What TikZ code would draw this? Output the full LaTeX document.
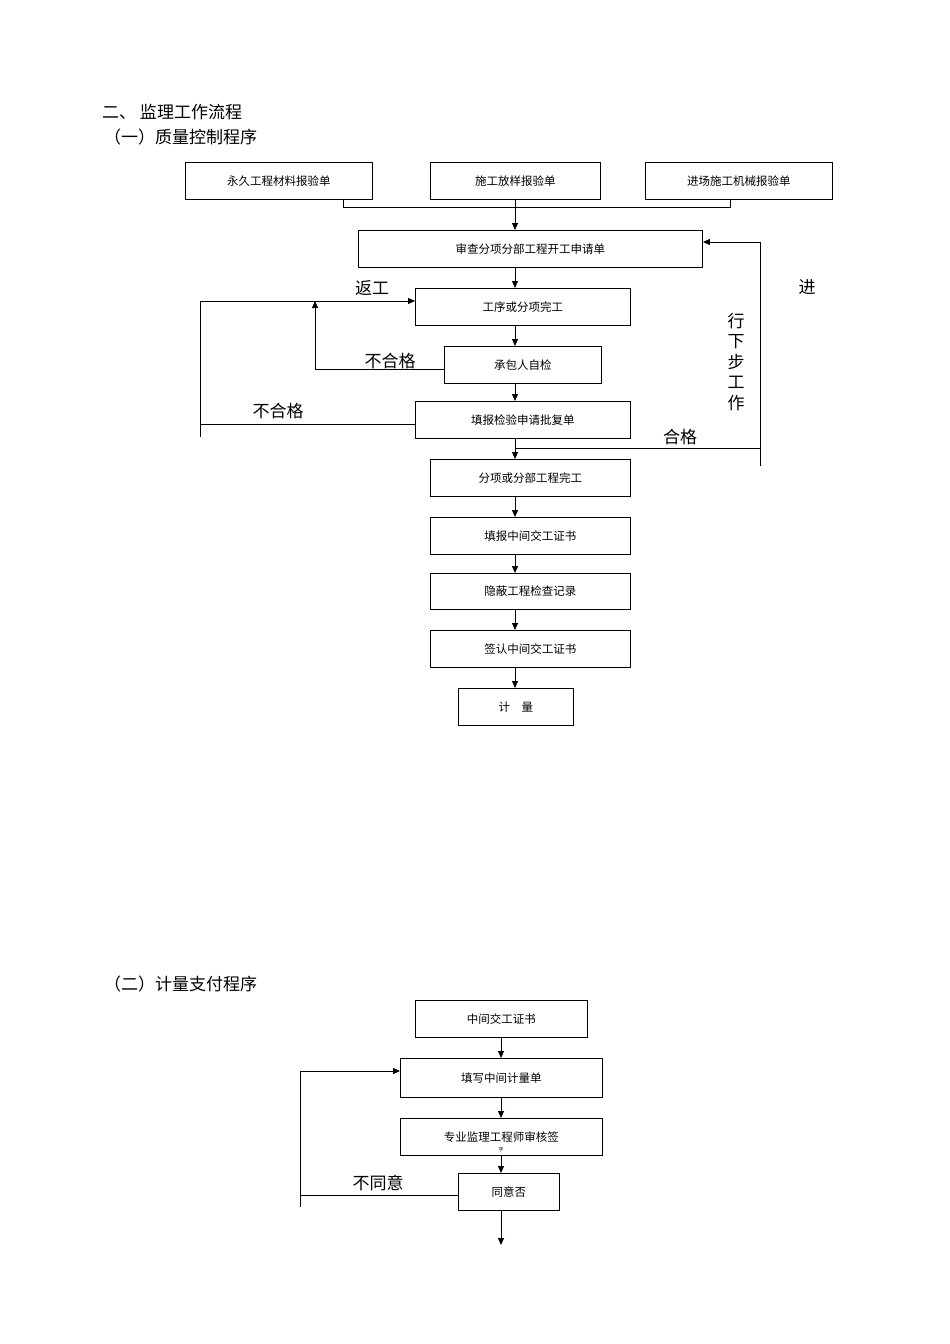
\documentclass[tikz,border=0pt]{standalone}
\usepackage{fontspec}
\newfontfamily\cjk{Noto Sans CJK SC}
\usetikzlibrary{arrows.meta}
\begin{document}
\begin{tikzpicture}[x=1pt,y=-1pt,
  box/.style={draw,line width=0.9pt,inner sep=0pt,anchor=north west,font=\cjk\fontsize{11.5}{12}\selectfont},
  lab/.style={font=\cjk\fontsize{17}{18}\selectfont,inner sep=0pt},
  ln/.style={line width=0.8pt},
  ar/.style={ln,-{Triangle[length=7pt,width=6pt]}}]
\useasboundingbox (0,0) rectangle (950,1344);
\node[lab,anchor=west] (t1) at (102,112) {二、 监理工作流程};
\node[lab,anchor=west] (t2) at (104,137) {（一）质量控制程序};
\newcommand{\bx}[6]{\node[box,minimum width=#4-#2,minimum height=#5-#3] (#1) at (#2,#3) {#6};}
\bx{a1}{185}{162}{372}{199}{永久工程材料报验单}
\bx{a2}{430}{162}{600}{199}{施工放样报验单}
\bx{a3}{645}{162}{832}{199}{进场施工机械报验单}
\bx{b}{358}{230}{702}{267}{审查分项分部工程开工申请单}
\bx{c}{415}{288}{630}{325}{工序或分项完工}
\bx{d}{444}{346}{601}{383}{承包人自检}
\bx{e}{415}{401}{630}{438}{填报检验申请批复单}
\bx{f}{430}{459}{630}{496}{分项或分部工程完工}
\bx{g}{430}{517}{630}{554}{填报中间交工证书}
\bx{h}{430}{573}{630}{609}{隐蔽工程检查记录}
\bx{i}{430}{630}{630}{667}{签认中间交工证书}
\bx{j}{458}{688}{573}{725}{计\quad 量}
\coordinate (bl) at (343,207); \coordinate (br) at (730,207);
\draw[ln] (343,199) -- (bl) -- (br) -- (730,199);
\draw[ar] (a2.south -| 515,0) -- (b.north -| 515,0);
\draw[ar] (b.south -| 515,0) -- (c.north -| 515,0);
\draw[ar] (c.south -| 515,0) -- (d.north -| 515,0);
\draw[ar] (d.south -| 515,0) -- (e.north -| 515,0);
\draw[ar] (e.south -| 515,0) -- (f.north -| 515,0);
\draw[ar] (f.south -| 515,0) -- (g.north -| 515,0);
\draw[ar] (g.south -| 515,0) -- (h.north -| 515,0);
\draw[ar] (h.south -| 515,0) -- (i.north -| 515,0);
\draw[ar] (i.south -| 515,0) -- (j.north -| 515,0);
\draw[ar] (200,437) -- (200,301) -- (c.west |- 0,301);
\draw[ln] (e.west |- 0,424) -- (200,424);
\draw[ar] (d.west |- 0,369) -- (315,369) -- (315,301);
\draw[ln] (515,448) -- (760,448);
\draw[ar] (760,466) -- (760,242) -- (b.east |- 0,242);
\node[lab] (l1) at (372,288) {返工};
\node[lab] (l2) at (390,361) {不合格};
\node[lab] (l3) at (278,411) {不合格};
\node[lab] (l4) at (680,437) {合格};
\node[lab] (l5) at (807,287) {进};
\node[lab,align=center,font=\cjk\fontsize{17}{20.5}\selectfont] (l6) at (736,362) {行\\下\\步\\工\\作};
% part 2
\node[lab,anchor=west] (t3) at (104,984) {（二）计量支付程序};
\bx{k}{415}{1000}{587}{1037}{中间交工证书}
\bx{l}{400}{1058}{602}{1097}{填写中间计量单}
\bx{m}{400}{1118}{602}{1155}{专业监理工程师审核签}
\node[font=\cjk\fontsize{5}{5}\selectfont,inner sep=0pt] (mz) at (501,1150) {字};
\bx{n}{458}{1173}{559}{1210}{同意否}
\coordinate (end) at (501,1245);
\draw[ar] (k.south -| 501,0) -- (l.north -| 501,0);
\draw[ar] (l.south -| 501,0) -- (m.north -| 501,0);
\draw[ar] (m.south -| 501,0) -- (n.north -| 501,0);
\draw[ar] (n.south -| 501,0) -- (end);
\draw[ln] (n.west |- 0,1195) -- (300,1195);
\draw[ar] (300,1207) -- (300,1071) -- (l.west |- 0,1071);
\node[lab] (l7) at (378,1183) {不同意};
\end{tikzpicture}
\end{document}
